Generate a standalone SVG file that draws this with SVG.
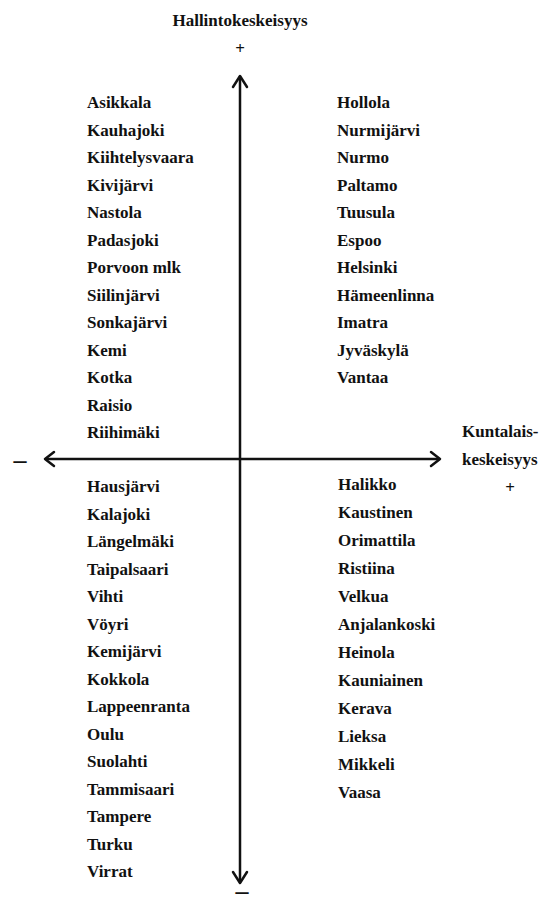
<svg xmlns="http://www.w3.org/2000/svg" width="544" height="905" viewBox="0 0 544 905">
<style>
text{font-family:"Liberation Serif","Times New Roman",serif;font-weight:bold;font-size:17px;fill:#111}
.sign{font-size:26px}
.ax{stroke:#111;stroke-width:2.5;fill:none;stroke-linecap:round;stroke-linejoin:round}
</style>
<rect width="544" height="905" fill="#fff"/>
<g id="connectors">
<line class="ax" x1="240" y1="77" x2="240" y2="882"/>
<line class="ax" x1="46" y1="459" x2="439" y2="459"/>
<polyline class="ax" points="233,87 240,76 247,87"/>
<polyline class="ax" points="233,872 240,883 247,872"/>
<polyline class="ax" points="54,452 45,459 54,466"/>
<polyline class="ax" points="431,452 440,459 431,466"/>
</g>
<g id="axis-y-label">
<text x="240" y="26" text-anchor="middle">Hallintokeskeisyys</text>
<text x="240" y="54" text-anchor="middle">+</text>
<text class="sign" x="242" y="899" text-anchor="middle">–</text>
</g>
<g id="axis-x-label">
<text x="462" y="437">Kuntalais-</text>
<text x="462" y="465">keskeisyys</text>
<text x="510" y="493" text-anchor="middle">+</text>
<text class="sign" x="20" y="468" text-anchor="middle">–</text>
</g>
<g id="top-left">
<text x="87" y="108">Asikkala</text>
<text x="87" y="135.5">Kauhajoki</text>
<text x="87" y="163">Kiihtelysvaara</text>
<text x="87" y="190.5">Kivijärvi</text>
<text x="87" y="218">Nastola</text>
<text x="87" y="245.5">Padasjoki</text>
<text x="87" y="273">Porvoon mlk</text>
<text x="87" y="300.5">Siilinjärvi</text>
<text x="87" y="328">Sonkajärvi</text>
<text x="87" y="355.5">Kemi</text>
<text x="87" y="383">Kotka</text>
<text x="87" y="410.5">Raisio</text>
<text x="87" y="438">Riihimäki</text>
</g>
<g id="top-right">
<text x="337" y="108">Hollola</text>
<text x="337" y="135.5">Nurmijärvi</text>
<text x="337" y="163">Nurmo</text>
<text x="337" y="190.5">Paltamo</text>
<text x="337" y="218">Tuusula</text>
<text x="337" y="245.5">Espoo</text>
<text x="337" y="273">Helsinki</text>
<text x="337" y="300.5">Hämeenlinna</text>
<text x="337" y="328">Imatra</text>
<text x="337" y="355.5">Jyväskylä</text>
<text x="337" y="383">Vantaa</text>
</g>
<g id="bottom-left">
<text x="87" y="492">Hausjärvi</text>
<text x="87" y="519.5">Kalajoki</text>
<text x="87" y="547">Längelmäki</text>
<text x="87" y="574.5">Taipalsaari</text>
<text x="87" y="602">Vihti</text>
<text x="87" y="629.5">Vöyri</text>
<text x="87" y="657">Kemijärvi</text>
<text x="87" y="684.5">Kokkola</text>
<text x="87" y="712">Lappeenranta</text>
<text x="87" y="739.5">Oulu</text>
<text x="87" y="767">Suolahti</text>
<text x="87" y="794.5">Tammisaari</text>
<text x="87" y="822">Tampere</text>
<text x="87" y="849.5">Turku</text>
<text x="87" y="877">Virrat</text>
</g>
<g id="bottom-right">
<text x="338" y="490">Halikko</text>
<text x="338" y="518">Kaustinen</text>
<text x="338" y="546">Orimattila</text>
<text x="338" y="574">Ristiina</text>
<text x="338" y="602">Velkua</text>
<text x="338" y="630">Anjalankoski</text>
<text x="338" y="658">Heinola</text>
<text x="338" y="686">Kauniainen</text>
<text x="338" y="714">Kerava</text>
<text x="338" y="742">Lieksa</text>
<text x="338" y="770">Mikkeli</text>
<text x="338" y="798">Vaasa</text>
</g>
</svg>
